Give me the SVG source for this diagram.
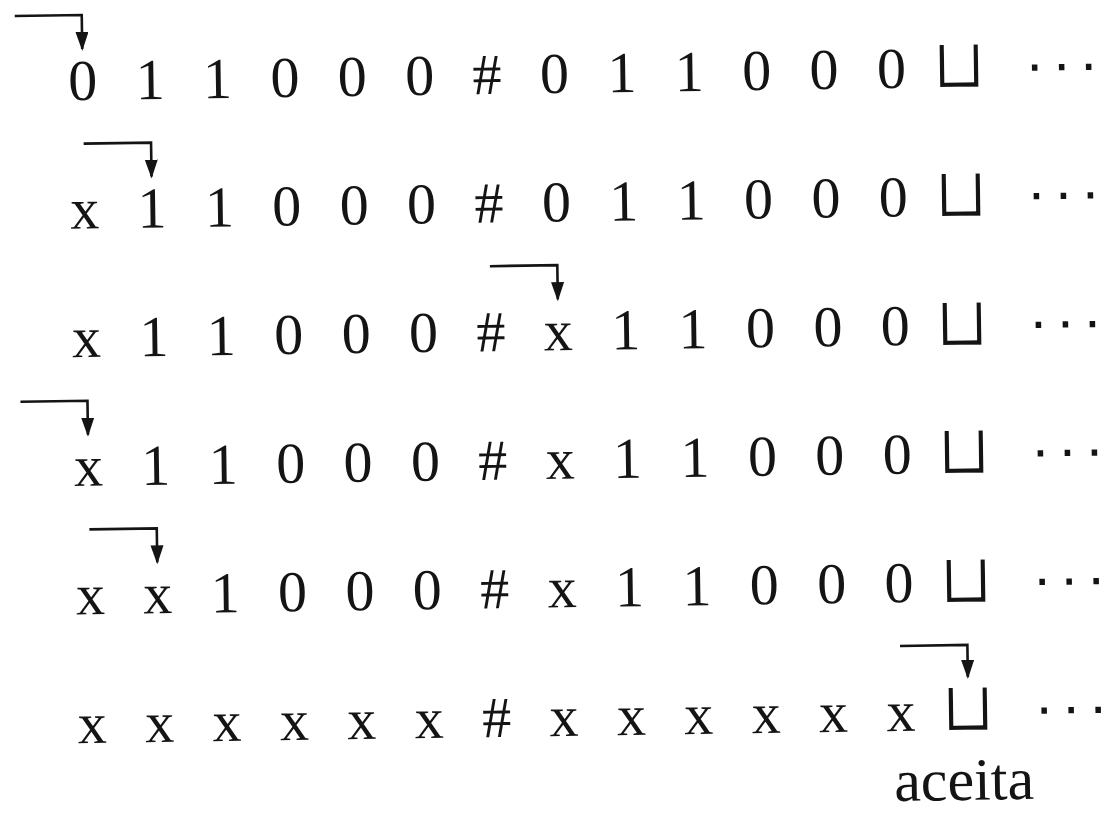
<svg xmlns="http://www.w3.org/2000/svg" width="1107" height="814" viewBox="0 0 1107 814">
<style>
.t{font-family:"Liberation Serif",serif;font-size:58px;text-anchor:middle;fill:#141414}
.b{font-family:"Noto Sans CJK JP","DejaVu Sans",sans-serif;font-weight:300;font-size:70px;text-anchor:middle;fill:#141414;stroke:#fff;stroke-width:1.6}
.d{font-family:"Liberation Sans",sans-serif;font-size:58px;text-anchor:middle;fill:#141414}
.a{font-family:"Liberation Serif",serif;font-size:60px;fill:#141414}
.c{fill:none;stroke:#141414;stroke-width:2.6}
</style>
<defs>
<marker id="ah" markerUnits="userSpaceOnUse" markerWidth="20" markerHeight="14" refX="17" refY="6.5" orient="auto">
<path d="M0,0 L19,6.5 L0,13 Z" fill="#141414"/>
</marker>
</defs>
<rect width="1107" height="814" fill="#fff"/>
<g transform="rotate(-0.85 83 100)">
<g id="row1">
<text class="t" x="83 150.4 217.8 285.2 352.6 420 487.4 554.8 622.2 689.6 757 824.4 891.8" y="100">011000#011000</text>
<text class="b" x="959.2" y="101">⊔</text>
<text class="d" x="1035 1062 1089" y="97.5">···</text>
</g>
<g id="row2">
<text class="t" x="83 150.4 217.8 285.2 352.6 420 487.4 554.8 622.2 689.6 757 824.4 891.8" y="228.6">x11000#011000</text>
<text class="b" x="959.2" y="229.6">⊔</text>
<text class="d" x="1035 1062 1089" y="226.1">···</text>
</g>
<g id="row3">
<text class="t" x="83 150.4 217.8 285.2 352.6 420 487.4 554.8 622.2 689.6 757 824.4 891.8" y="357.2">x11000#x11000</text>
<text class="b" x="959.2" y="358.2">⊔</text>
<text class="d" x="1035 1062 1089" y="354.7">···</text>
</g>
<g id="row4">
<text class="t" x="83 150.4 217.8 285.2 352.6 420 487.4 554.8 622.2 689.6 757 824.4 891.8" y="485.8">x11000#x11000</text>
<text class="b" x="959.2" y="486.8">⊔</text>
<text class="d" x="1035 1062 1089" y="483.3">···</text>
</g>
<g id="row5">
<text class="t" x="83 150.4 217.8 285.2 352.6 420 487.4 554.8 622.2 689.6 757 824.4 891.8" y="614.4">xx1000#x11000</text>
<text class="b" x="959.2" y="615.4">⊔</text>
<text class="d" x="1035 1062 1089" y="611.9">···</text>
</g>
<g id="row6">
<text class="t" x="83 150.4 217.8 285.2 352.6 420 487.4 554.8 622.2 689.6 757 824.4 891.8" y="743">xxxxxx#xxxxxx</text>
<text class="b" x="959.2" y="744">⊔</text>
<text class="d" x="1035 1062 1089" y="740.5">···</text>
<text class="a" x="884" y="813">aceita</text>
</g>
<g id="connectors">
<path class="c" marker-end="url(#ah)" d="M16,15 H83 V49"/>
<path class="c" marker-end="url(#ah)" d="M83,143.6 H150.4 V177.6"/>
<path class="c" marker-end="url(#ah)" d="M487.4,272.2 H554.8 V306.2"/>
<path class="c" marker-end="url(#ah)" d="M16,400.8 H83 V434.8"/>
<path class="c" marker-end="url(#ah)" d="M83,529.4 H150.4 V563.4"/>
<path class="c" marker-end="url(#ah)" d="M891.8,658 H959.2 V690"/>
</g>
</g>
</svg>
